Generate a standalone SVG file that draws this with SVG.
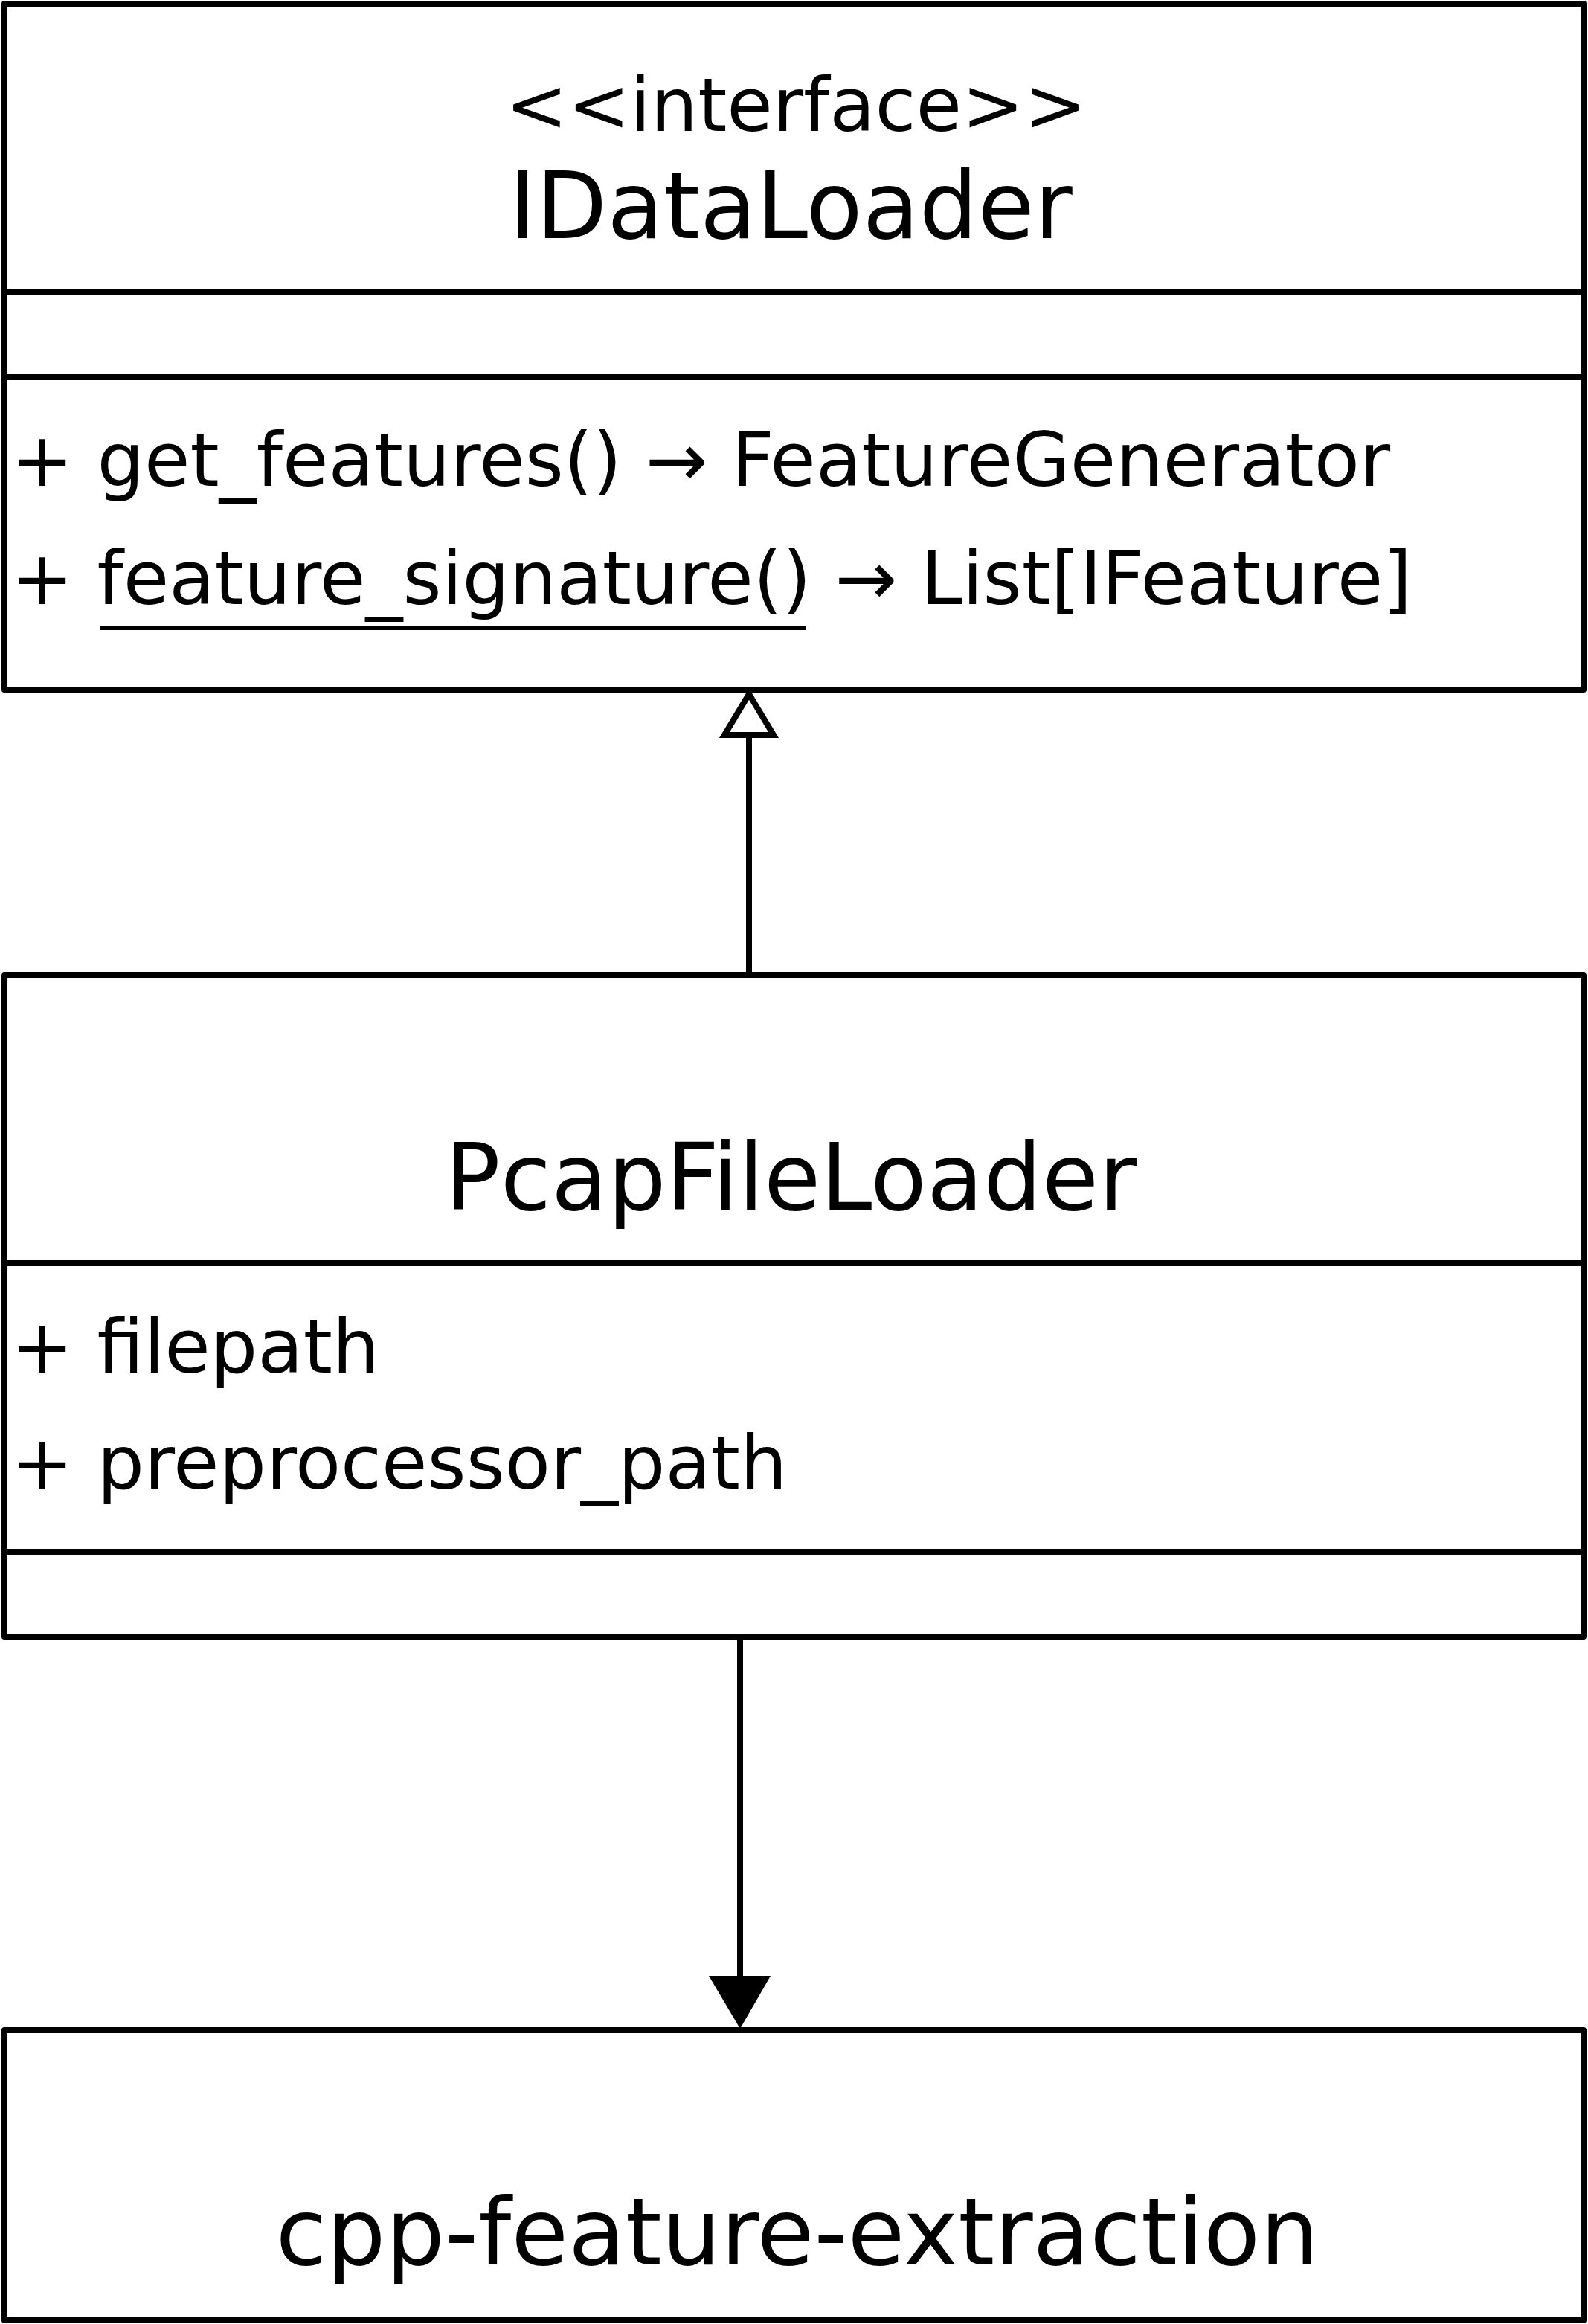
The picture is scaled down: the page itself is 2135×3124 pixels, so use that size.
<svg xmlns="http://www.w3.org/2000/svg" width="2135" height="3124" viewBox="0 0 2135 3124">
<style>
.box{fill:#fff;stroke:#000;stroke-width:8;stroke-linejoin:round}
.div{stroke:#000;stroke-width:8;fill:none}
.t{font-family:"DejaVu Sans","Liberation Sans",sans-serif;fill:#000}
.title{font-size:124px;text-anchor:middle}
.stereo{font-size:100px;text-anchor:middle}
.member{font-size:100px}
.conn{stroke:#000;stroke-width:8;fill:none}
</style>
<rect x="0" y="0" width="2135" height="3124" fill="#fff"/>
<g id="IDataLoader">
<rect class="box" x="6" y="5" width="2123" height="922"/>
<line class="div" x1="6" y1="392" x2="2129" y2="392"/>
<line class="div" x1="6" y1="507" x2="2129" y2="507"/>
<text class="t stereo" x="1070" y="176">&lt;&lt;interface&gt;&gt;</text>
<text class="t title" x="1063" y="320">IDataLoader</text>
<text class="t member" x="15" y="653">+ get_features() → FeatureGenerator</text>
<text class="t member" x="15" y="812">+ feature_signature() → List[IFeature]</text>
<line x1="134" y1="844" x2="1083" y2="844" stroke="#000" stroke-width="6"/>
</g>
<g id="PcapFileLoader">
<rect class="box" x="6" y="1311" width="2123" height="889"/>
<line class="div" x1="6" y1="1698" x2="2129" y2="1698"/>
<line class="div" x1="6" y1="2086" x2="2129" y2="2086"/>
<text class="t title" x="1063" y="1626">PcapFileLoader</text>
<text class="t member" x="15" y="1845">+ filepath</text>
<text class="t member" x="15" y="2001">+ preprocessor_path</text>
</g>
<g id="cpp-feature-extraction">
<rect class="box" x="6" y="2729" width="2123" height="390"/>
<text class="t title" x="1072" y="3044" style="font-size:125px">cpp-feature-extraction</text>
</g>
<g id="connectors">
<line class="conn" x1="1007" y1="1311" x2="1007" y2="988"/>
<path class="conn" d="M1007,933 L974,988 L1040,988 Z" style="fill:#fff"/>
<line class="conn" x1="995" y1="2205" x2="995" y2="2660"/>
<path d="M953,2656 L1036,2656 L995,2727 Z" fill="#000"/>
</g>
</svg>
